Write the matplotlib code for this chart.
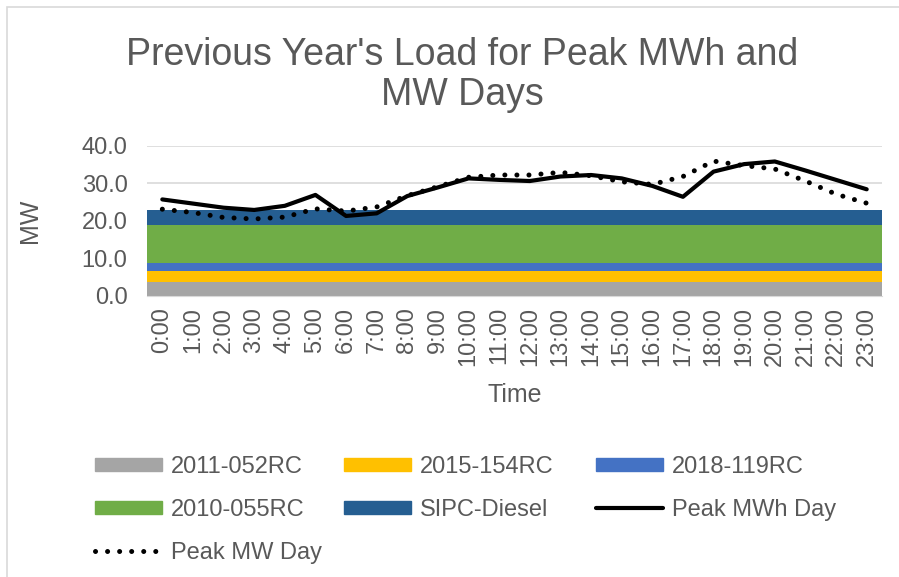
import matplotlib.pyplot as plt
from matplotlib.patches import Patch, Rectangle
from matplotlib.lines import Line2D
import numpy as np

plt.rcParams['font.family'] = ['Liberation Sans', 'DejaVu Sans']

# data
hours = [f"{h}:00" for h in range(24)]
band_names = ["2011-052RC", "2015-154RC", "2018-119RC", "2010-055RC", "SIPC-Diesel"]
band_mw = [3.8, 2.9, 2.0, 10.2, 4.0]
band_colors = ["#A5A5A5", "#FFC000", "#4472C4", "#70AD47", "#255E91"]

peak_mwh_day = [25.7, 24.6, 23.5, 22.9, 24.0, 26.9, 21.3, 22.0, 26.6, 28.9, 31.3, 30.9,
                30.6, 31.8, 32.2, 31.3, 29.3, 26.4, 33.1, 35.1, 35.8, 33.4, 30.9, 28.4]
peak_mw_day = [23.1, 22.2, 20.9, 20.5, 21.0, 23.2, 22.6, 23.7, 26.7, 29.1, 31.6, 32.2,
               32.2, 32.9, 32.0, 30.4, 29.7, 31.8, 35.9, 34.7, 33.8, 30.6, 27.1, 24.7]

TXT = "#595959"
GRID = "#D9D9D9"
W, H = 899, 577

fig = plt.figure(figsize=(W / 100, H / 100), dpi=100)
ax = fig.add_axes([147 / W, 1 - 296 / H, 735 / W, 150.3 / H])

x = np.arange(len(hours))
edges = [-0.5, len(hours) - 0.5]

# stacked capacity bands
base = 0.0
for name, val, col in zip(band_names, band_mw, band_colors):
    ax.fill_between(edges, [base, base], [base + val, base + val], color=col,
                    linewidth=0, zorder=2)
    base += val

ax.plot(x, peak_mwh_day, color="black", lw=3, solid_capstyle="round",
        solid_joinstyle="round", zorder=4)
ax.plot(x, peak_mw_day, color="black", lw=3.6, linestyle=(0, (0.01, 2.4)),
        dash_capstyle="round", zorder=4)

ax.set_xlim(edges)
ax.set_ylim(0, 40)
ax.set_yticks([0, 10, 20, 30, 40])
ax.set_yticklabels([f"{v:.1f}" for v in [0, 10, 20, 30, 40]])
ax.set_xticks(x)
ax.set_xticklabels(hours, rotation=90)
ax.tick_params(length=0, labelsize=17, labelcolor=TXT)
ax.tick_params(axis="y", pad=14)
ax.tick_params(axis="x", pad=8)
ax.grid(axis="y", color=GRID, lw=1.2, zorder=0)
ax.set_axisbelow(True)
for s in ["top", "right", "left"]:
    ax.spines[s].set_visible(False)
ax.spines["bottom"].set_color(GRID)

ax.set_ylabel("MW", fontsize=18, color=TXT)
ax.yaxis.set_label_coords(-0.143, 0.5)
ax.set_xlabel("Time", fontsize=18, color=TXT)
ax.xaxis.set_label_coords(0.5, -0.58)

fig.text(462 / W, 1 - 105 / H, "Previous Year's Load for Peak MWh and\nMW Days",
         ha="center", va="baseline", fontsize=27, color=TXT, linespacing=1.15)

# chart border (left/top visible)
fig.add_artist(Rectangle((7 / W, -0.1), 1.2, 1.1 - 7 / H, transform=fig.transFigure,
                         fill=False, edgecolor=GRID, lw=1.2))

# legend, row-major in three columns
h = [Patch(color=c) for c in band_colors]
h_mwh = Line2D([], [], color="black", lw=3, solid_capstyle="round")
h_mw = Line2D([], [], color="black", lw=3.6, linestyle=(0, (0.01, 2.4)),
              dash_capstyle="round")
cols = [
    ([h[0], h[3], h_mw], [band_names[0], band_names[3], "Peak MW Day"], 95),
    ([h[1], h[4]], [band_names[1], band_names[4]], 344),
    ([h[2], h_mwh], [band_names[2], "Peak MWh Day"], 596),
]
for hs, ls, px in cols:
    leg = fig.legend(hs, ls, loc="upper left", bbox_to_anchor=(px / W, 1 - 456 / H),
                     frameon=False, fontsize=17, labelcolor=TXT, handlelength=2.85,
                     handleheight=0.5, handletextpad=0.35, labelspacing=0.89,
                     borderpad=0, borderaxespad=0)

fig.savefig("out.png", dpi=100)
